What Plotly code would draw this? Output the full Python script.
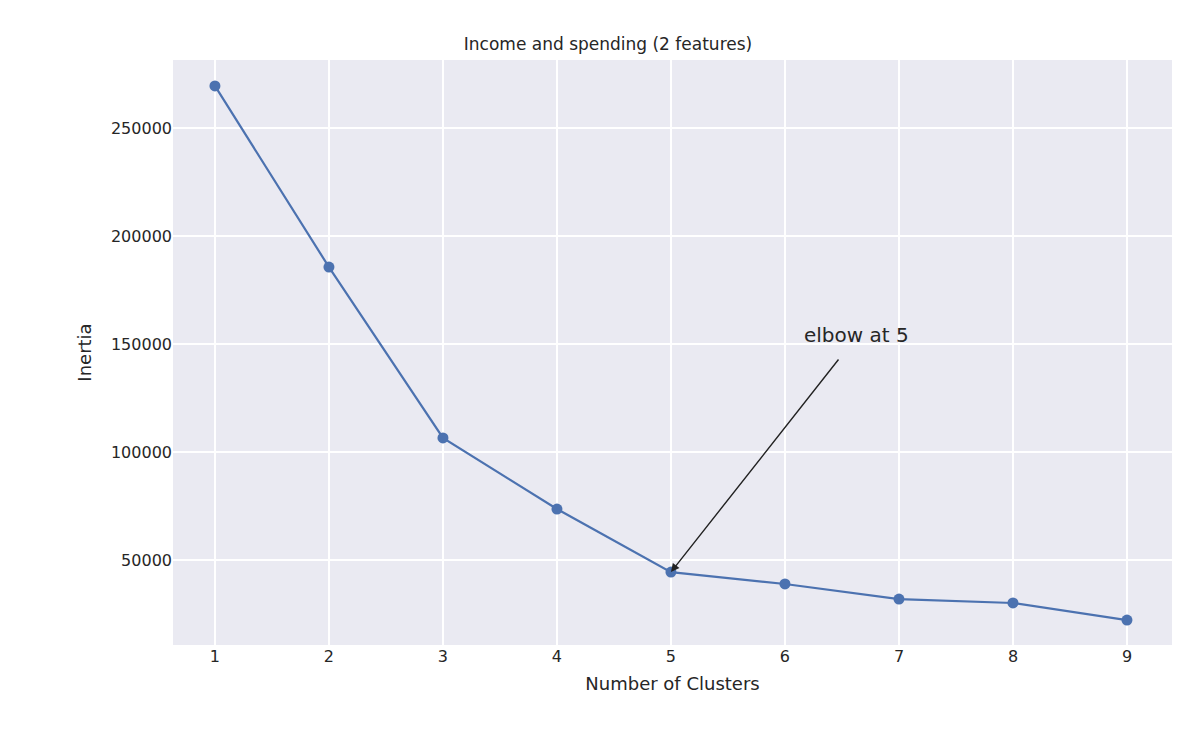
import plotly.graph_objects as go

clusters = [1, 2, 3, 4, 5, 6, 7, 8, 9]
inertia = [269500, 185600, 106500, 73600, 44400, 38900, 31900, 30100, 22200]
y_ticks = [50000, 100000, 150000, 200000, 250000]

fig = go.Figure()
fig.add_trace(go.Scatter(x=clusters, y=inertia, mode="lines+markers",
                         line=dict(color="#4C72B0", width=2.2),
                         marker=dict(color="#4C72B0", size=11), showlegend=False))

fig.add_annotation(x=5, y=inertia[4], ax=6.48, ay=143500, axref="x", ayref="y",
                   text="", showarrow=True, arrowhead=2, arrowsize=1.2,
                   arrowwidth=1.4, arrowcolor="#222222")
fig.add_annotation(x=6.63, y=154200, text="elbow at 5", showarrow=False,
                   font=dict(size=20, color="#262626"))

axis_common = dict(showgrid=True, gridcolor="white", gridwidth=1.5, zeroline=False,
                   ticks="", tickfont=dict(size=16, color="#262626"),
                   title_font=dict(size=18, color="#262626"))
fig.update_xaxes(range=[0.632, 9.395], tickvals=clusters, title_text="Number of Clusters",
                 title_standoff=12, **axis_common)
fig.update_yaxes(range=[10648, 281481], tickvals=y_ticks, tickformat="d",
                 title_text="Inertia", title_standoff=14, **axis_common)
fig.update_layout(
    width=1200, height=750,
    title=dict(text="Income and spending (2 features)", x=0.5, xanchor="center",
               y=0.96, font=dict(size=17, color="#262626")),
    font=dict(family="DejaVu Sans"),
    plot_bgcolor="#EAEAF2", paper_bgcolor="white",
    margin=dict(l=165, r=36, t=52, b=113, autoexpand=False),
)
fig.write_html("out.html")
